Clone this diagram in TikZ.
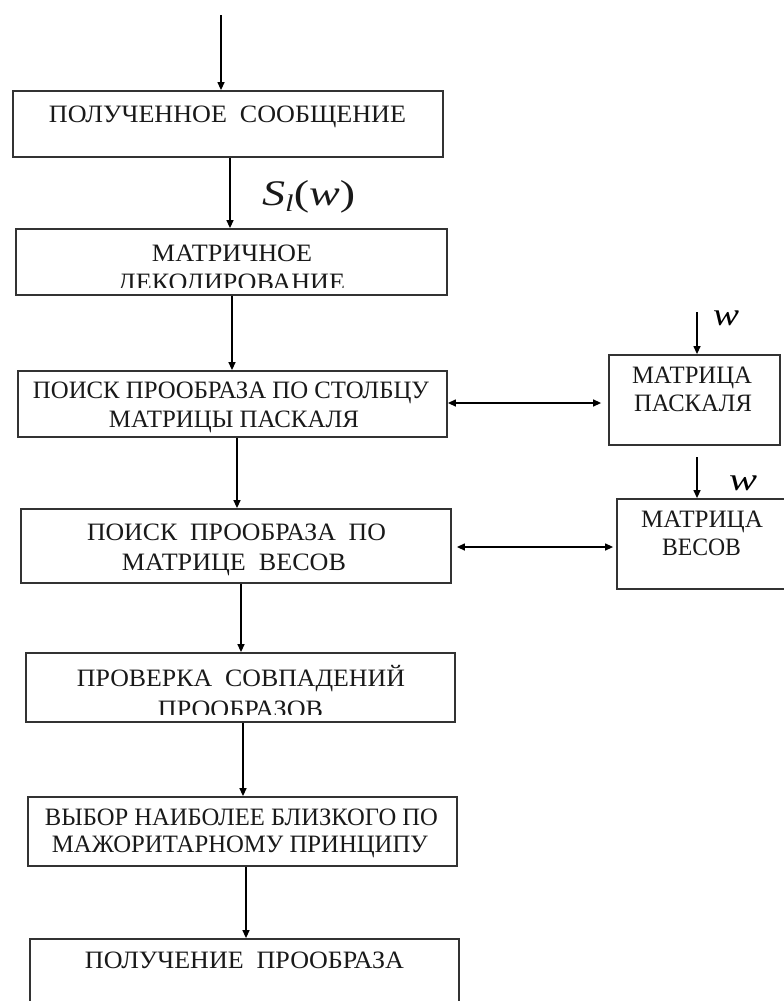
\documentclass[tikz,border=0pt]{standalone}
\usepackage{fontspec}
\setmainfont{Liberation Serif}
\usepackage{graphicx}
\usetikzlibrary{arrows.meta,fit}

% set a line of text to a given width (in pt), keeping its height
\newcommand\fitw[2]{\resizebox{#1pt}{\height}{#2}}

\begin{document}
\begin{tikzpicture}[x=1pt,y=-1pt,
  box/.style={draw=black!80,line width=1.8pt,inner sep=0pt,fit={#1}},
  lbl/.style={inner sep=0pt,anchor=base,text=black!90,font=\fontsize{25}{28}\selectfont},
  arr/.style={line width=1.3pt,-{Triangle[length=8pt,width=7pt]}},
  darr/.style={line width=1.3pt,{Triangle[length=8pt,width=7pt]}-{Triangle[length=8pt,width=7pt]}},
  var/.style={inner sep=0pt,anchor=base west,font=\fontsize{32}{32}\selectfont\itshape}]
\useasboundingbox (0,0) rectangle (784,1001);

% boxes
\node[box={(13,91) (443,157)}] (b1) {};
\node[box={(16,229) (447,295)}] (b2) {};
\node[box={(18,371) (447,437)}] (b3) {};
\node[box={(609,355) (780,445)}] (pas) {};
\node[box={(21,509) (451,583)}] (b4) {};
\node[box={(617,499) (792,589)}] (wt) {};
\node[box={(26,653) (455,722)}] (b5) {};
\node[box={(28,797) (457,866)}] (b6) {};
\node[box={(30,939) (459,1030)}] (b7) {};

% box texts
\node[lbl] (t1) at (227.5,122) {\fitw{357}{ПОЛУЧЕННОЕ\ \ СООБЩЕНИЕ}};
\node[lbl] (t2a) at (232,261) {\fitw{160}{МАТРИЧНОЕ}};
\begin{scope}
  \clip (0,229) rectangle (784,287.5);
  \node[lbl] (t2b) at (231.5,290) {\fitw{227}{ДЕКОДИРОВАНИЕ}};
\end{scope}
\node[lbl] (t3a) at (231,398) {\fitw{396}{ПОИСК ПРООБРАЗА ПО СТОЛБЦУ}};
\node[lbl] (t3b) at (234,427) {\fitw{250}{МАТРИЦЫ ПАСКАЛЯ}};
\node[lbl] (pa) at (692,383) {\fitw{120}{МАТРИЦА}};
\node[lbl] (pb) at (693,411) {\fitw{118}{ПАСКАЛЯ}};
\node[lbl] (t4a) at (236.5,540) {\fitw{299}{ПОИСК\ \ ПРООБРАЗА\ \ ПО}};
\node[lbl] (t4b) at (234,570) {\fitw{224}{МАТРИЦЕ\ \ ВЕСОВ}};
\node[lbl] (wa) at (702,527) {\fitw{122}{МАТРИЦА}};
\node[lbl] (wb) at (701.5,555) {\fitw{79}{ВЕСОВ}};
\node[lbl] (t5a) at (241,686) {\fitw{328}{ПРОВЕРКА\ \ СОВПАДЕНИЙ}};
\begin{scope}
  \clip (0,653) rectangle (784,714.5);
  \node[lbl] (t5b) at (240.5,717) {\fitw{165}{ПРООБРАЗОВ}};
\end{scope}
\node[lbl] (t6a) at (241.5,825) {\fitw{393}{ВЫБОР НАИБОЛЕЕ БЛИЗКОГО ПО}};
\node[lbl] (t6b) at (240,852) {\fitw{376}{МАЖОРИТАРНОМУ ПРИНЦИПУ}};
\node[lbl] (t7) at (244.5,968) {\fitw{319}{ПОЛУЧЕНИЕ\ \ ПРООБРАЗА}};

% variable labels
\node[inner sep=0pt,anchor=base west,text=black!90] (sl) at (262,205)
  {\fitw{93}{\fontsize{36}{36}\selectfont\itshape S\raisebox{-6pt}{\fontsize{24}{24}\selectfont l}\upshape(\itshape w\upshape)}};
\node[var] (w1) at (713,325) {\fitw{26}{w}};
\node[var] (w2) at (729,490) {\fitw{28}{w}};

% free ends of the incoming arrows
\coordinate (in) at (221,15);
\coordinate (win1) at (697,312);
\coordinate (win2) at (697,457);

% vertical flow
\draw[arr] (in) -- (in |- b1.north);
\draw[arr] (230,0 |- b1.south) -- (230,0 |- b2.north);
\draw[arr] (232,0 |- b2.south) -- (232,0 |- b3.north);
\draw[arr] (237,0 |- b3.south) -- (237,0 |- b4.north);
\draw[arr] (241,0 |- b4.south) -- (241,0 |- b5.north);
\draw[arr] (243,0 |- b5.south) -- (243,0 |- b6.north);
\draw[arr] (246,0 |- b6.south) -- (246,0 |- b7.north);

% side matrices
\draw[arr] (win1) -- (win1 |- pas.north);
\draw[arr] (win2) -- (win2 |- wt.north);
\draw[darr,shorten >=7pt] (b3.east |- 0,403) -- (pas.west |- 0,403);
\draw[darr,shorten <=5pt,shorten >=3pt] (b4.east |- 0,547) -- (wt.west |- 0,547);
\end{tikzpicture}
\end{document}
